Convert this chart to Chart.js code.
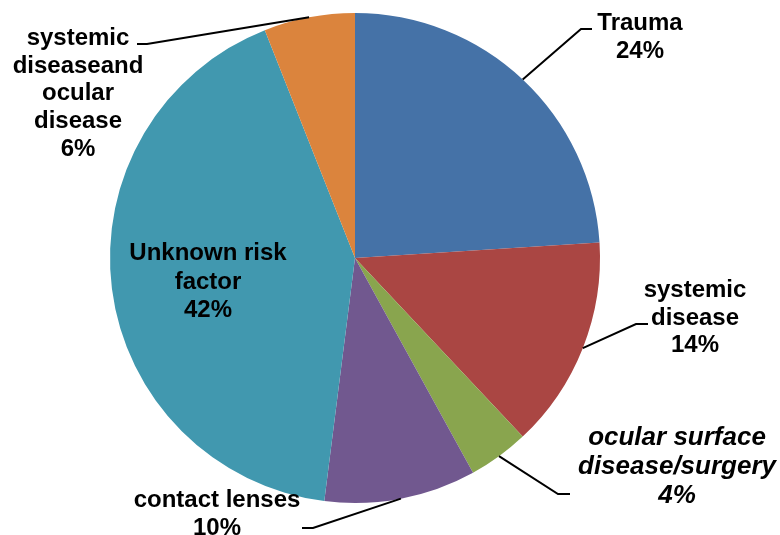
<!DOCTYPE html>
<html>
<head>
<meta charset="utf-8">
<script src="https://cdn.jsdelivr.net/npm/chart.js@4"></script>
<style>
  html, body { margin: 0; padding: 0; background: #fff; }
  #wrap { width: 780px; height: 535px; }
</style>
</head>
<body>
<div id="wrap"><canvas id="pie" width="780" height="535"></canvas></div>
<script>
// Data
const categories = ['Trauma', 'systemic disease', 'ocular surface disease/surgery', 'contact lenses', 'Unknown risk factor', 'systemic diseaseand ocular disease'];
const shares = [24, 14, 4, 10, 42, 6];
const sliceColors = ['#4572A7', '#AA4643', '#89A54E', '#71588F', '#4198AF', '#DB843D'];

// label text lines (category split over lines) and where each label sits
const labelLines = [
    ['Trauma'],
    ['systemic', 'disease'],
    ['ocular surface', 'disease/surgery'],
    ['contact lenses'],
    ['Unknown risk', 'factor'],
    ['systemic', 'diseaseand', 'ocular', 'disease']
];
// x = text centre, y = first baseline
const labelLayout = [
    { x: 640, y: 30, step: 28, elbow: [581, 29], end: [592, 29] },
    { x: 695, y: 297, step: 27.5, elbow: [636, 324], end: [648, 324] },
    { x: 677, y: 445, step: 29, elbow: [558, 494], end: [570, 494], italic: true },
    { x: 217, y: 507, step: 28, elbow: [313, 528], end: [302, 528] },
    { x: 208, y: 260, step: 28.5, inside: true },
    { x: 78, y: 45, step: 27.7, elbow: [147, 44], end: [137, 44] }
];

const pieLabels = {
    id: 'pieLabels',
    afterDraw(chart) {
        const ctx = chart.ctx;
        const arcs = chart.getDatasetMeta(0).data;
        ctx.save();
        arcs.forEach((arc, i) => {
            const lay = labelLayout[i];
            const p = arc.getProps(['x', 'y', 'startAngle', 'endAngle', 'outerRadius'], true);
            const mid = (p.startAngle + p.endAngle) / 2;
            if (!lay.inside) {
                ctx.beginPath();
                ctx.moveTo(p.x + Math.cos(mid) * p.outerRadius, p.y + Math.sin(mid) * p.outerRadius);
                ctx.lineTo(lay.elbow[0], lay.elbow[1]);
                ctx.lineTo(lay.end[0], lay.end[1]);
                ctx.strokeStyle = '#000';
                ctx.lineWidth = 2;
                ctx.stroke();
            }
            const lines = labelLines[i].concat([shares[i] + '%']);
            ctx.fillStyle = '#000';
            ctx.textAlign = 'center';
            ctx.textBaseline = 'alphabetic';
            ctx.font = lay.italic ? 'italic bold 26px "Liberation Sans", Arial, sans-serif'
                                  : 'bold 24px "Liberation Sans", Arial, sans-serif';
            lines.forEach((t, k) => ctx.fillText(t, lay.x, lay.y + k * lay.step));
        });
        ctx.restore();
    }
};

new Chart(document.getElementById('pie'), {
    type: 'pie',
    data: {
        labels: categories,
        datasets: [{ data: shares, backgroundColor: sliceColors, borderWidth: 0 }]
    },
    options: {
        responsive: false,
        animation: false,
        layout: { padding: { left: 110, right: 180, top: 13, bottom: 32 } },
        plugins: { legend: { display: false }, tooltip: { enabled: false } }
    },
    plugins: [pieLabels]
});
</script>
</body>
</html>
